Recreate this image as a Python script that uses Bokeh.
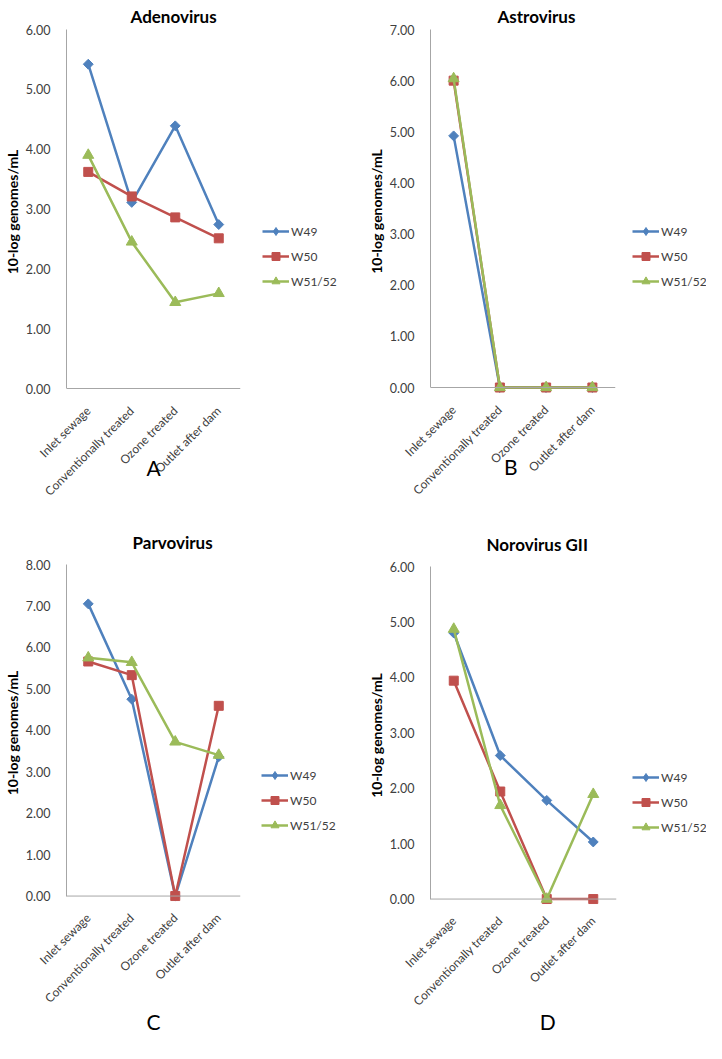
import math
from bokeh.plotting import figure
from bokeh.models import Range1d, FactorRange, Legend, LegendItem, Title, Span, NumeralTickFormatter, FixedTicker, Spacer
from bokeh.layouts import row, column
from bokeh.embed import file_html
from bokeh.resources import INLINE

categories = ["Inlet sewage", "Conventionally treated", "Ozone treated", "Outlet after dam"]
series_names = ["W49", "W50", "W51/52"]

adeno_w49 = [5.42, 3.11, 4.39, 2.74]
adeno_w50 = [3.62, 3.21, 2.86, 2.51]
adeno_w5152 = [3.90, 2.45, 1.44, 1.59]

astro_w49 = [4.92, 0.0, 0.0, 0.0]
astro_w50 = [6.00, 0.0, 0.0, 0.0]
astro_w5152 = [6.04, 0.0, 0.0, 0.0]

parvo_w49 = [7.05, 4.75, 0.0, 3.36]
parvo_w50 = [5.66, 5.33, 0.0, 4.59]
parvo_w5152 = [5.75, 5.64, 3.72, 3.40]

noro_w49 = [4.80, 2.59, 1.78, 1.03]
noro_w50 = [3.94, 1.94, 0.0, 0.0]
noro_w5152 = [4.87, 1.69, 0.0, 1.89]

colors = ["#4F81BD", "#C0504D", "#9BBB59"]
FONT = "Lato"
AXIS_COLOR = "#A6A6A6"
TEXT_COLOR = "#404040"
MARKERS = [dict(marker="square", angle=math.pi / 4, size=7),
           dict(marker="square", angle=0, size=9),
           dict(marker="triangle", angle=0, size=11)]
LEGEND_MARKERS = [dict(marker="diamond", angle=0, size=9),
                  dict(marker="square", angle=0, size=7),
                  dict(marker="triangle", angle=0, size=8)]
NAN = float("nan")


def make_panel(title, letter, series, ymax, width, height, left, frame_w, top, span_px,
               legend_left, legend_top, title_offset, title_standoff, letter_standoff):
    pad_px = 6
    frame_h = span_px + pad_px
    ppu = span_px / ymax
    pad = pad_px / ppu
    main_w = left + frame_w + legend_left
    bottom = height - top - frame_h
    p = figure(width=main_w, height=height, x_range=FactorRange(*categories),
               y_range=Range1d(-pad, ymax), output_backend="svg", toolbar_location=None,
               title=None, min_border_left=left, min_border_right=legend_left,
               min_border_top=top, min_border_bottom=bottom)
    p.outline_line_color = None
    p.xgrid.visible = False
    p.ygrid.visible = False

    ya = p.yaxis[0]
    ya.ticker = FixedTicker(ticks=list(range(0, ymax + 1)))
    ya.formatter = NumeralTickFormatter(format="0.00")
    ya.bounds = (0, ymax)
    ya.axis_line_color = AXIS_COLOR
    ya.major_tick_line_color = None
    ya.minor_tick_line_color = None
    ya.major_label_text_font = FONT
    ya.major_label_text_font_size = "12.5px"
    ya.major_label_text_color = TEXT_COLOR
    ya.major_label_standoff = 10
    ya.axis_label = "10-log genomes/mL"
    ya.axis_label_text_font = FONT
    ya.axis_label_text_font_style = "bold"
    ya.axis_label_text_font_size = "14px"
    ya.axis_label_text_color = "#000000"
    ya.axis_label_standoff = 2

    xa = p.xaxis[0]
    xa.axis_line_color = None
    xa.major_tick_line_color = None
    xa.minor_tick_line_color = None
    xa.major_label_orientation = math.pi / 4
    xa.major_label_standoff = 8
    xa.major_label_text_font = FONT
    xa.major_label_text_font_size = "12px"
    xa.major_label_text_color = TEXT_COLOR
    xa.axis_label = letter
    xa.axis_label_text_font = FONT
    xa.axis_label_text_font_style = "normal"
    xa.axis_label_text_font_size = "21px"
    xa.axis_label_text_color = "#000000"
    xa.axis_label_standoff = letter_standoff

    p.add_layout(Span(location=0, dimension="width", line_color=AXIS_COLOR, line_width=1))

    for vals, col, mk in zip(series, colors, MARKERS):
        p.line(categories, vals, line_color=col, line_width=2.5)
        p.scatter(categories, vals, marker=mk["marker"], angle=mk["angle"], size=mk["size"],
                  fill_color=col, line_color=col)

    p.add_layout(Title(text=title, align="left", offset=title_offset, standoff=title_standoff,
                       vertical_align="middle", text_font=FONT, text_font_style="bold",
                       text_font_size="17px", text_color="#000000"), "above")

    # legend lives in its own small figure, placed to the right of the plot area
    lw = width - main_w
    lh = 70
    lf = figure(width=lw, height=lh, x_range=Range1d(0, 1), y_range=Range1d(0, 1),
                output_backend="svg", toolbar_location=None, title=None,
                x_axis_location=None, y_axis_location=None,
                min_border_left=0, min_border_right=0, min_border_top=0, min_border_bottom=0)
    lf.outline_line_color = None
    lf.xgrid.visible = False
    lf.ygrid.visible = False
    items = []
    for name, col, mk in zip(series_names, colors, LEGEND_MARKERS):
        ln = lf.line([NAN], [NAN], line_color=col, line_width=2.5)
        sc = lf.scatter([NAN], [NAN], marker=mk["marker"], angle=mk["angle"], size=mk["size"],
                        fill_color=col, line_color=col)
        items.append(LegendItem(label=name, renderers=[ln, sc]))
    leg = Legend(items=items, location="top_left", orientation="vertical",
                 glyph_width=27, glyph_height=20, label_height=20, spacing=5,
                 padding=0, margin=0, border_line_color=None, background_fill_alpha=0,
                 label_text_font=FONT, label_text_font_size="12px", label_text_color=TEXT_COLOR,
                 label_standoff=2)
    lf.add_layout(leg)
    side = column(Spacer(width=lw, height=legend_top), lf, spacing=0)
    return row(p, side, spacing=0)


pA = make_panel("Adenovirus", "A", [adeno_w49, adeno_w50, adeno_w5152], 6,
                353, 514, 54, 186, 29, 359, 22, 221, 64, 4, -52)
pB = make_panel("Astrovirus", "B\u2007\u2007", [astro_w49, astro_w50, astro_w5152], 7,
                353, 514, 77, 185, 29, 358, 17, 221, 67, 4, -52)
pC = make_panel("Parvovirus", "C", [parvo_w49, parvo_w50, parvo_w5152], 8,
                353, 522, 54, 186, 50, 365, 21, 251, 66, 22, -5)
pD = make_panel("Norovirus GII", "\u2007\u2007\u2007\u2007D", [noro_w49, noro_w50, noro_w5152], 6,
                353, 522, 77, 186, 52, 366, 16, 253, 56, 22, -8)

layout = column(row(pA, pB, spacing=0), row(pC, pD, spacing=0), spacing=0)
open("out.html", "w").write(file_html(layout, INLINE))
